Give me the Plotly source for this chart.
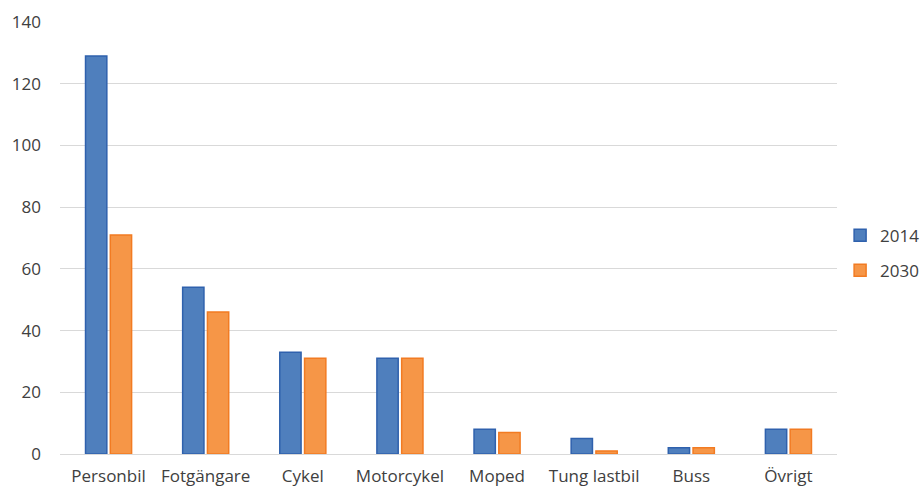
import plotly.graph_objects as go

categories = ["Personbil", "Fotgängare", "Cykel", "Motorcykel", "Moped",
              "Tung lastbil", "Buss", "Övrigt"]
values_2014 = [129, 54, 33, 31, 8, 5, 2, 8]
values_2030 = [71, 46, 31, 31, 7, 1, 2, 8]
y_ticks = [0, 20, 40, 60, 80, 100, 120, 140]

font_family = "Open Sans, Noto Sans, sans-serif"
text_color = "#404040"

fig = go.Figure()
fig.add_trace(go.Bar(
    x=categories, y=values_2014, name="2014", legendgroup="a",
    marker=dict(color="#4f7fbd", line=dict(color="#2f61ad", width=1.5)),
))
fig.add_trace(go.Bar(
    x=categories, y=values_2030, name="2030", legendgroup="b",
    marker=dict(color="#f69647", line=dict(color="#f27b22", width=1.5)),
))

fig.update_layout(
    width=921, height=489,
    margin=dict(l=60, r=84, t=22, b=35, autoexpand=False),
    paper_bgcolor="white", plot_bgcolor="white",
    barmode="group", bargap=0.49, bargroupgap=0.14,
    font=dict(family=font_family, size=17, color=text_color),
    legend=dict(
        x=1.004, xanchor="left", y=0.465, yanchor="middle",
        tracegroupgap=10, traceorder="grouped",
        font=dict(size=17, color=text_color),
        itemwidth=30,
    ),
    xaxis=dict(showgrid=False, showline=False, ticks="",
               ticklabelstandoff=10,
               tickfont=dict(size=17, color=text_color)),
    yaxis=dict(range=[0, 140], tickvals=y_ticks, showgrid=True,
               gridcolor="#d9d9d9", gridwidth=1, zeroline=True,
               zerolinecolor="#d9d9d9", zerolinewidth=1,
               showline=False, ticks="", ticklabelstandoff=18,
               tickfont=dict(size=17, color=text_color)),
)

fig.write_html("out.html")
